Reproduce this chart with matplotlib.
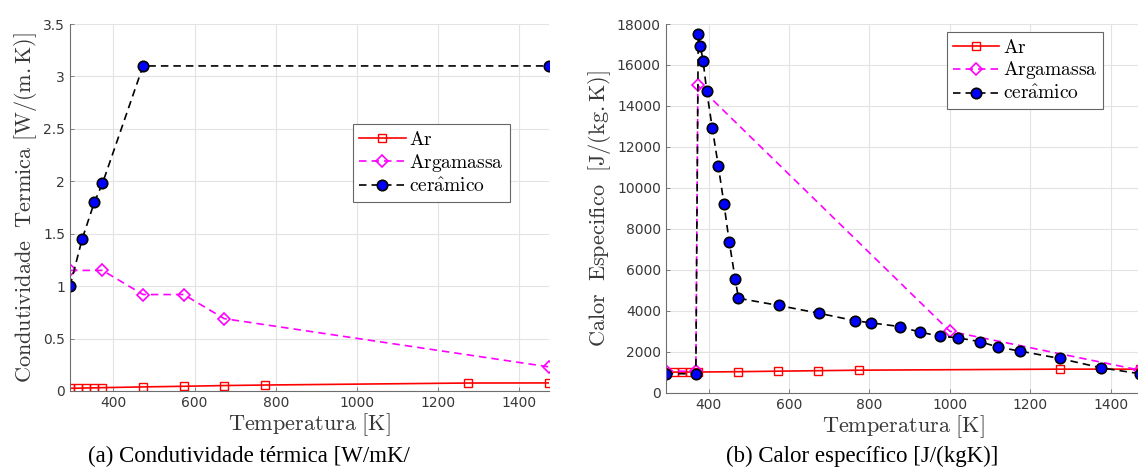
import matplotlib
matplotlib.use("Agg")
import matplotlib.pyplot as plt
from matplotlib.ticker import FuncFormatter

plt.rcParams['mathtext.fontset'] = 'cm'

# ---- data: thermal conductivity ----
k_ar_T = [293, 313, 333, 353, 373, 473, 573, 673, 773, 1273, 1473]
k_ar = [0.026, 0.027, 0.029, 0.030, 0.032, 0.039, 0.045, 0.052, 0.057, 0.076, 0.077]
k_arg_T = [293, 373, 473, 573, 673, 1473]
k_arg = [1.15, 1.15, 0.92, 0.92, 0.69, 0.23]
k_cer_T = [293, 323, 353, 373, 473, 1473]
k_cer = [1.0, 1.45, 1.80, 1.98, 3.10, 3.10]

# ---- data: specific heat ----
c_ar_T = [293, 313, 333, 353, 373, 473, 573, 673, 773, 1273, 1473]
c_ar = [1007, 1007, 1007, 1008, 1009, 1026, 1051, 1075, 1099, 1150, 1150]
c_arg_T = [293, 368, 373, 1000, 1473]
c_arg = [1050, 1050, 15000, 3000, 1100]
c_cer_T = [293, 368, 374, 379, 386, 395, 409, 424, 438, 451, 466, 474,
           574, 674, 765, 804, 875, 925, 975, 1020, 1075, 1120, 1175,
           1274, 1375, 1473]
c_cer = [926, 926, 17500, 16940, 16210, 14730, 12900, 11060, 9210, 7375,
         5540, 4610, 4260, 3880, 3510, 3410, 3230, 2960, 2760, 2680, 2490,
         2225, 2030, 1670, 1220, 926]

xticks = [400, 600, 800, 1000, 1200, 1400]
k_yticks = [0, 0.5, 1, 1.5, 2, 2.5, 3, 3.5]
c_yticks = list(range(0, 18001, 2000))

TXT = '#383838'
fig = plt.figure(figsize=(11.38, 4.71), dpi=100)
ax1 = fig.add_axes([70/1138, (471-391)/471, 479/1138, 367/471])
ax2 = fig.add_axes([665.7/1138, (471-392.7)/471, 474.3/1138, 368.7/471])

def style(ax):
    ax.grid(True, color='#e3e3e3', linewidth=0.8)
    ax.set_axisbelow(True)
    for s in ['top', 'right']:
        ax.spines[s].set_visible(False)
    for s in ['left', 'bottom']:
        ax.spines[s].set_color('#6e6e6e')
        ax.spines[s].set_linewidth(0.8)
    ax.tick_params(direction='in', length=3, width=0.6, colors='#6e6e6e',
                   labelcolor=TXT, labelsize=10)
    ax.set_xticks(xticks)
    ax.set_xlim(293, 1473)

lw = 1.2
DASH = (4.5, 3)
def draw(ax, Ta, ya, Tg, yg, Tc, yc):
    ax.plot(Ta, ya, '-', color='red', marker='s', mfc='none', mec='red',
            ms=5.5, lw=lw, label=r'$\mathrm{Ar}$')
    ax.plot(Tg, yg, '--', dashes=DASH, color='magenta', marker='D', mfc='none',
            mec='magenta', ms=6, mew=1.2, lw=lw, label=r'$\mathrm{Argamassa}$')
    ax.plot(Tc, yc, '--', dashes=DASH, color='black', marker='o', mfc='blue',
            mec='black', ms=7.5, mew=1.2, lw=lw, label=r'$\mathrm{cer\hat{a}mico}$')

draw(ax1, k_ar_T, k_ar, k_arg_T, k_arg, k_cer_T, k_cer)
style(ax1)
ax1.set_ylim(0, 3.5)
ax1.set_yticks(k_yticks)
ax1.yaxis.set_major_formatter(FuncFormatter(lambda v, p: '%g' % v))
ax1.set_xlabel(r'$\mathrm{Temperatura\ [K]}$', fontsize=16, color=TXT, labelpad=1)
ax1.set_ylabel(r'$\mathrm{Condutividade\ \ Termica\ [W/(m.K)]}$', fontsize=16,
               color=TXT, labelpad=3)

draw(ax2, c_ar_T, c_ar, c_arg_T, c_arg, c_cer_T, c_cer)
style(ax2)
ax2.set_ylim(0, 18000)
ax2.set_yticks(c_yticks)
ax2.set_xlabel(r'$\mathrm{Temperatura\ [K]}$', fontsize=16, color=TXT, labelpad=1)
ax2.set_ylabel(r'$\mathrm{Calor\ \ Especifico\ \ [J/(kg.K)]}$', fontsize=16,
               color=TXT, labelpad=3)

for ax, anchor in [(ax1, (0.591, 0.7275)), (ax2, (0.5925, 0.979))]:
    leg = ax.legend(loc='upper left', bbox_to_anchor=anchor, borderaxespad=0,
                    fontsize=14, fancybox=False, framealpha=1,
                    edgecolor='#666666', handlelength=2.4, handletextpad=0.2,
                    borderpad=0.3, labelspacing=0.15)
    leg.get_frame().set_linewidth(0.8)

fig.text(249/1138, 0.03, '(a) Condutividade térmica [W/mK/', fontsize=16.5,
         family='Liberation Serif', ha='center', va='center', color='black')
fig.text(862/1138, 0.03, '(b) Calor específico [J/(kgK)]', fontsize=16.5,
         family='Liberation Serif', ha='center', va='center', color='black')

fig.savefig('out.png', dpi=100)
